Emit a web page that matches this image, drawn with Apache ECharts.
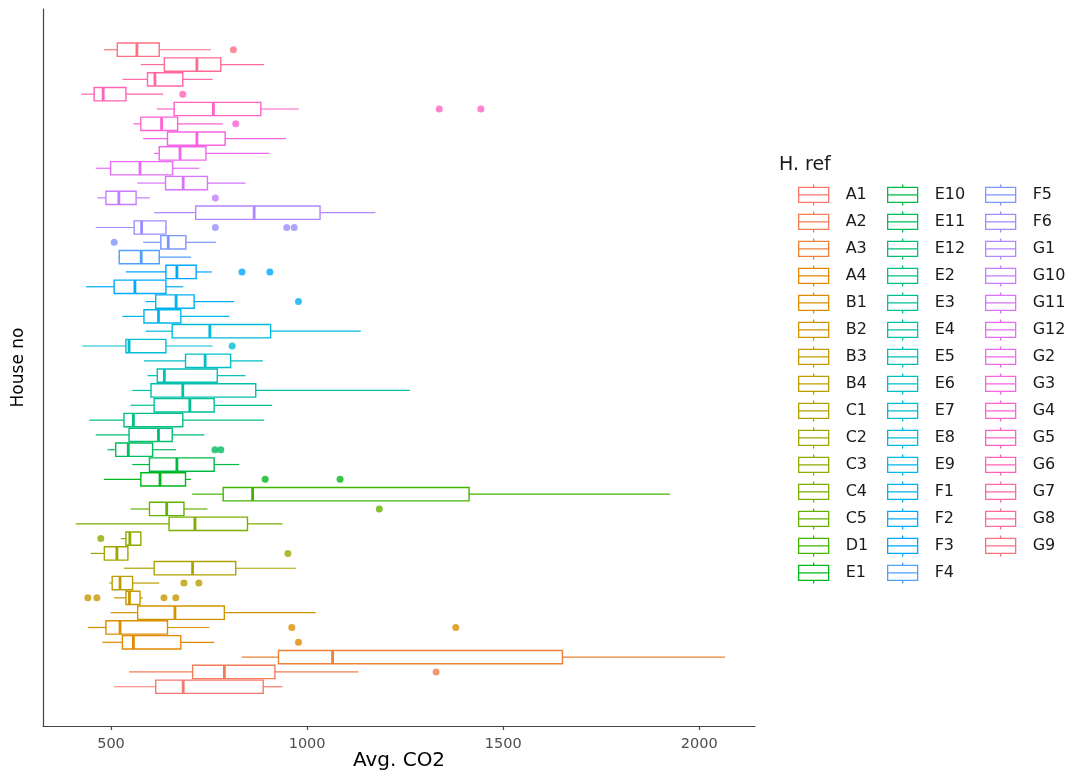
<!DOCTYPE html>
<html>
<head>
<meta charset="utf-8">
<script src="https://cdn.jsdelivr.net/npm/echarts@6/dist/echarts.min.js"></script>
<style>
  html, body { margin: 0; padding: 0; background: #fff; }
  #chart { width: 1072px; height: 772px; }
</style>
</head>
<body>
<div id="chart"></div>
<script>
// ---- Data ----
const categories = ['A1','A2','A3','A4','B1','B2','B3','B4','C1','C2','C3','C4','C5','D1','E1',
  'E10','E11','E12','E2','E3','E4','E5','E6','E7','E8','E9','F1','F2','F3','F4',
  'F5','F6','G1','G10','G11','G12','G2','G3','G4','G5','G6','G7','G8','G9'];

const whiskerLow  = [508, 546, 833, 478, 441, 499, 508, 496, 533, 448, 525, 410, 550, 707, 482,
  554, 491, 461, 445, 550, 554, 593, 584, 427, 588, 529, 588, 436, 538, 519,
  582, 461, 610, 465, 567, 461, 610, 582, 557, 617, 424, 529, 576, 482];
const q1          = [614, 708, 927, 529, 487, 568, 538, 503, 610, 483, 538, 648, 598, 786, 576,
  598, 512, 546, 533, 610, 602, 618, 690, 538, 656, 584, 614, 508, 640, 521,
  627, 559, 716, 487, 639, 499, 623, 644, 576, 661, 457, 593, 636, 516];
const median      = [684, 789, 1065, 557, 523, 663, 547, 523, 708, 515, 548, 714, 642, 861, 625,
  668, 544, 621, 557, 701, 683, 636, 740, 546, 752, 621, 666, 561, 668, 577,
  646, 578, 865, 520, 684, 574, 676, 719, 629, 761, 480, 612, 719, 566];
const q3          = [888, 918, 1651, 678, 644, 789, 574, 555, 818, 543, 576, 848, 686, 1413, 690,
  763, 606, 656, 683, 763, 869, 771, 805, 640, 907, 678, 712, 640, 717, 623,
  691, 640, 1033, 564, 746, 657, 742, 791, 670, 882, 538, 683, 780, 623];
const whiskerHigh = [937, 1131, 2066, 763, 751, 1022, 581, 623, 972, 545, 576, 937, 746, 1925, 704,
  827, 666, 738, 890, 911, 1262, 843, 887, 759, 1137, 802, 814, 684, 757, 704,
  768, 643, 1174, 599, 843, 725, 904, 946, 785, 979, 633, 759, 890, 755];
const outliers = [[], [1329], [], [978], [961, 1379], [], [441, 464, 635, 665], [686, 724], [], [951], [474], [], [1184], [], [893, 1084],
  [], [765, 780], [], [], [], [], [], [], [809], [], [], [978], [], [834, 905], [],
  [508], [766, 948, 967], [], [766], [], [], [], [], [818], [1337, 1443], [683], [], [], [812]];
const xTicks = [500, 1000, 1500, 2000];

// ---- ggplot-like hue palette (style only) ----
function hcl(h, c, l) {
  const hr = h * Math.PI / 180;
  const U = c * Math.cos(hr), V = c * Math.sin(hr);
  const Xn = 95.047, Yn = 100, Zn = 108.883;
  const Y = l > 8 ? Yn * Math.pow((l + 16) / 116, 3) : Yn * l / 903.3;
  const den = Xn + 15 * Yn + 3 * Zn;
  const un = 4 * Xn / den, vn = 9 * Yn / den;
  const up = U / (13 * l) + un, vp = V / (13 * l) + vn;
  const X = 9 * Y * up / (4 * vp);
  const Z = Y * (12 - 3 * up - 20 * vp) / (4 * vp);
  const x = X / 100, y = Y / 100, z = Z / 100;
  let r = 3.240479 * x - 1.537150 * y - 0.498535 * z;
  let g = -0.969256 * x + 1.875992 * y + 0.041556 * z;
  let b = 0.055648 * x - 0.204043 * y + 1.057311 * z;
  const gam = v => v <= 0.0031308 ? 12.92 * v : 1.055 * Math.pow(v, 1 / 2.4) - 0.055;
  const hex = v => {
    v = Math.round(Math.min(1, Math.max(0, gam(v))) * 255);
    return v.toString(16).padStart(2, '0');
  };
  return '#' + hex(r) + hex(g) + hex(b);
}
const n = categories.length;
const colors = categories.map((_, k) => hcl(15 + k * 360 / n, 100, 65));
const FONT = '"DejaVu Sans", Verdana, sans-serif';

// ---- Series ----
const series = [];
categories.forEach((cat, i) => {
  const col = colors[i];
  series.push({
    type: 'custom',
    name: cat,
    color: col,
    encode: { x: [1, 2, 3, 4, 5], y: 0 },
    data: [[i, whiskerLow[i], q1[i], median[i], q3[i], whiskerHigh[i]]],
    renderItem: function (params, api) {
      const yv = api.value(0);
      const pWl = api.coord([api.value(1), yv]);
      const pQ1 = api.coord([api.value(2), yv]);
      const pMd = api.coord([api.value(3), yv]);
      const pQ3 = api.coord([api.value(4), yv]);
      const pWh = api.coord([api.value(5), yv]);
      const h = api.size([0, 1])[1] * 0.45;
      const cy = pMd[1];
      return {
        type: 'group',
        children: [
          { type: 'line', shape: { x1: pWl[0], y1: cy, x2: pQ1[0], y2: cy }, style: { stroke: col, lineWidth: 1.2 } },
          { type: 'line', shape: { x1: pQ3[0], y1: cy, x2: pWh[0], y2: cy }, style: { stroke: col, lineWidth: 1.2 } },
          { type: 'rect', shape: { x: pQ1[0], y: cy - h, width: pQ3[0] - pQ1[0], height: 2 * h }, style: { fill: '#fff', stroke: col, lineWidth: 1.4 } },
          { type: 'line', shape: { x1: pMd[0], y1: cy - h, x2: pMd[0], y2: cy + h }, style: { stroke: col, lineWidth: 2.8 } }
        ]
      };
    }
  });
  if (outliers[i].length) {
    series.push({
      type: 'scatter',
      name: cat,
      symbol: 'circle',
      symbolSize: 7,
      itemStyle: { color: col },
      z: 3,
      data: outliers[i].map(v => [v, i])
    });
  }
});

// ---- Legend (three columns) ----
const legendIcon = 'path://M0,3 L30,3 L30,18 L0,18 Z M0,10.5 L30,10.5 M15,0 L15,3 M15,18 L15,21';
function legendCol(names, left) {
  return {
    orient: 'vertical',
    left: left,
    top: 183.8,
    padding: 0,
    itemWidth: 30,
    itemHeight: 21,
    itemGap: 4.7,
    selectedMode: false,
    textStyle: { fontSize: 16, color: '#1a1a1a', fontFamily: FONT, padding: [0, 0, 0, 12] },
    data: names.map(nm => {
      const c = colors[categories.indexOf(nm)];
      return { name: nm, icon: legendIcon, itemStyle: { color: '#fff', borderColor: c, borderWidth: 1.3 } };
    })
  };
}

const option = {
  animation: false,
  backgroundColor: '#fff',
  textStyle: { fontFamily: FONT },
  title: {
    text: 'H. ref', left: 779, top: 156, padding: 0,
    textStyle: { fontSize: 19, fontWeight: 'normal', color: '#1a1a1a', fontFamily: FONT }
  },
  legend: [
    legendCol(categories.slice(0, 15), 798),
    legendCol(categories.slice(15, 30), 887),
    legendCol(categories.slice(30), 985)
  ],
  grid: { left: 43, right: 317, top: 9, bottom: 46, containLabel: false, outerBoundsMode: 'none' },
  xAxis: {
    type: 'value',
    min: 326.6,
    max: 2142,
    name: 'Avg. CO2',
    nameLocation: 'middle',
    nameGap: 25,
    nameMoveOverlap: false,
    nameTextStyle: { fontSize: 20, color: '#000', fontFamily: FONT },
    axisLine: { show: true, onZero: false, lineStyle: { color: '#444', width: 1.2 } },
    axisTick: { show: true, length: 4, customValues: xTicks, lineStyle: { color: '#444', width: 1.2 } },
    axisLabel: { customValues: xTicks, fontSize: 14.5, color: '#4d4d4d', margin: 11, fontFamily: FONT, formatter: v => String(v) },
    splitLine: { show: false }
  },
  yAxis: {
    type: 'value',
    min: -2.65,
    max: 45.75,
    name: 'House no',
    nameLocation: 'middle',
    nameGap: 16,
    nameMoveOverlap: false,
    nameTextStyle: { fontSize: 17, color: '#000', fontFamily: FONT },
    axisLine: { show: true, onZero: false, lineStyle: { color: '#444', width: 1.2 } },
    axisTick: { show: false },
    axisLabel: { show: false },
    splitLine: { show: false }
  },
  series: series
};

const chart = echarts.init(document.getElementById('chart'), null, { renderer: 'canvas' });
chart.setOption(option);
</script>
</body>
</html>
